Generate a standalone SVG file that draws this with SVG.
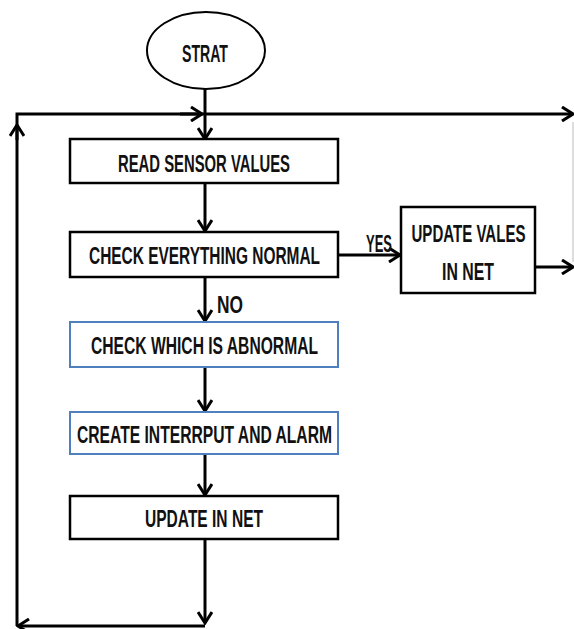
<svg xmlns="http://www.w3.org/2000/svg" width="574" height="629" viewBox="0 0 574 629">
<style>
.box{fill:#fff;stroke:#000;stroke-width:2.5}
.blue{fill:#fff;stroke:#4f7fbc;stroke-width:2}
.t{font-family:"Liberation Sans",Arial,sans-serif;font-weight:bold;font-size:24px;fill:#111;text-anchor:middle}
.c{fill:none;stroke:#000;stroke-width:3}
</style>
<defs>
<marker id="ah" viewBox="0 0 14 16" refX="12" refY="8" markerWidth="14" markerHeight="16" markerUnits="userSpaceOnUse" orient="auto">
<path d="M1,1 L12,8 L1,15" fill="none" stroke="#000" stroke-width="3"/>
</marker>
</defs>
<rect width="574" height="629" fill="#fff"/>
<g id="connectors">
<path class="c" d="M205,89 V139" marker-end="url(#ah)"/>
<path class="c" d="M17,626 V114 H573" marker-end="url(#ah)"/>
<path class="c" d="M17,140 V125" marker-end="url(#ah)"/>
<path class="c" d="M180,114 H202" marker-end="url(#ah)"/>
<path class="c" d="M205,183 V231" marker-end="url(#ah)"/>
<path class="c" d="M338,255 H400" marker-end="url(#ah)"/>
<path class="c" d="M535,267 H573" marker-end="url(#ah)"/>
<path class="c" d="M205,277 V321" marker-end="url(#ah)"/>
<path class="c" d="M205,367 V411" marker-end="url(#ah)"/>
<path class="c" d="M205,454 V495" marker-end="url(#ah)"/>
<path class="c" d="M205,539 V623" marker-end="url(#ah)"/>
<path class="c" d="M205,626 H18" marker-end="url(#ah)"/>
<path d="M573,122 V262" stroke="#bbb" stroke-width="1" fill="none"/>
</g>
<g id="start">
<ellipse cx="206" cy="50.5" rx="59" ry="38.5" fill="#fff" stroke="#000" stroke-width="2"/>
<text class="t" x="205" y="62" textLength="46" lengthAdjust="spacingAndGlyphs">STRAT</text>
</g>
<g id="read">
<rect class="box" x="70" y="139" width="268" height="44"/>
<text class="t" x="204" y="172" textLength="172" lengthAdjust="spacingAndGlyphs">READ SENSOR VALUES</text>
</g>
<g id="check">
<rect class="box" x="70" y="232" width="268" height="45"/>
<text class="t" x="204.5" y="264" textLength="231" lengthAdjust="spacingAndGlyphs">CHECK EVERYTHING NORMAL</text>
</g>
<g id="updatevales">
<rect class="box" x="401" y="207" width="134" height="86"/>
<text class="t" x="468.5" y="242" textLength="114" lengthAdjust="spacingAndGlyphs">UPDATE VALES</text>
<text class="t" x="468" y="280" textLength="52" lengthAdjust="spacingAndGlyphs">IN NET</text>
</g>
<g id="labels">
<text class="t" x="379" y="252" textLength="26" lengthAdjust="spacingAndGlyphs" style="font-size:23px">YES</text>
<text class="t" x="230" y="313" textLength="26" lengthAdjust="spacingAndGlyphs" style="font-size:23px">NO</text>
</g>
<g id="abnormal">
<rect class="blue" x="70" y="322" width="268" height="45"/>
<text class="t" x="204.5" y="354" textLength="227" lengthAdjust="spacingAndGlyphs">CHECK WHICH IS ABNORMAL</text>
</g>
<g id="interrupt">
<rect class="blue" x="70" y="412" width="268" height="42"/>
<text class="t" x="204.5" y="443" textLength="255" lengthAdjust="spacingAndGlyphs">CREATE INTERRPUT AND ALARM</text>
</g>
<g id="updatenet">
<rect class="box" x="70" y="496" width="268" height="43"/>
<text class="t" x="204" y="527" textLength="118" lengthAdjust="spacingAndGlyphs">UPDATE IN NET</text>
</g>
</svg>
